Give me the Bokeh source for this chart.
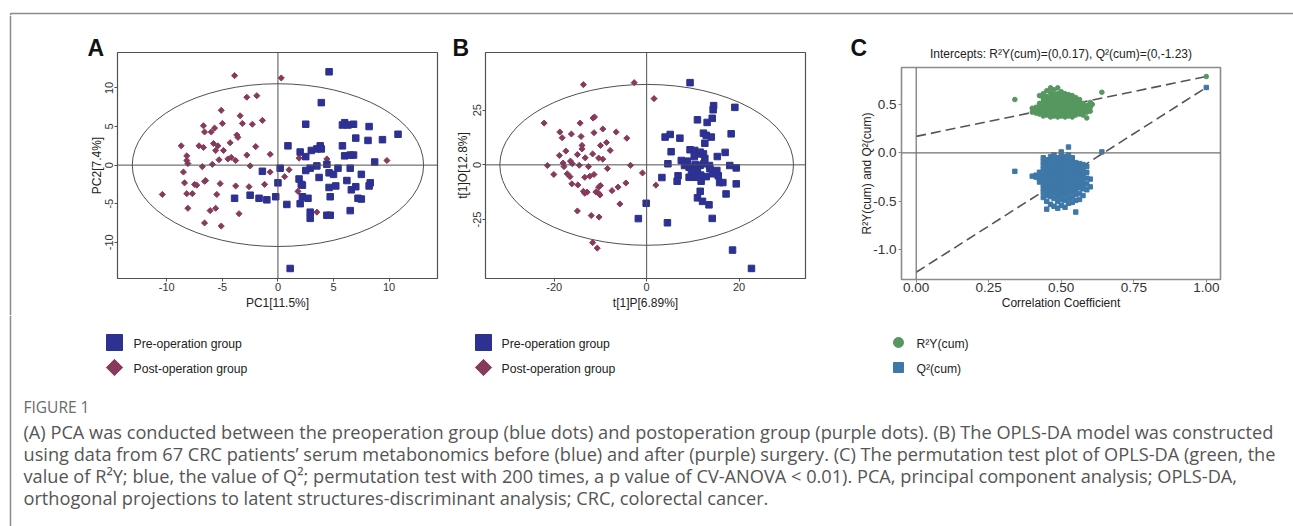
import math
from bokeh.plotting import figure
from bokeh.models import Range1d, FixedTicker, Span, Title
from bokeh.layouts import row, column
from bokeh.embed import file_html
from bokeh.resources import INLINE
from bokeh.core.properties import value

FONT = "Liberation Sans"
CAP_FONT = "Open Sans"

# ---------------- Panel A: PCA scores ----------------
pca_pre_x = [4.6, 3.9, 2.5, 5.8, 6.0, 6.3, 6.8, 8.2, 7.0, 8.1, 9.4, 10.8,
             0.9, 2.0, 2.5, 3.0, 3.5, 3.8, 3.9, 5.8, 6.0, 6.5, 6.8, 8.7,
             4.4, 3.5, 2.9, 2.5, 0.2, -1.4, 4.6, 5.0, 5.4, 6.5, 7.5,
             3.7, 1.9, 6.2, 2.1, 2.2, 0.0, 4.6, 5.2, 7.0, 6.6, 8.3, 8.2,
             -3.9, -2.5, -1.7, -1.0, -0.2, 2.2, 2.7, 4.7, 7.2, 7.5,
             0.8, 2.0, 2.9, 2.9, 4.4, 4.7, 6.5, 1.1]
pca_pre_y = [12.1, 8.1, 5.3, 5.2, 5.5, 5.2, 5.3, 5.0, 3.5, 3.2, 3.3, 4.0,
             2.5, 1.7, 1.1, 1.9, 2.1, 2.5, 2.1, 2.5, 1.2, 1.3, 1.3, 0.4,
             0.1, -0.1, -0.4, -0.7, -0.4, -0.8, -1.0, -1.2, -0.4, -0.4, -1.2,
             -1.6, -1.8, -2.0, -2.5, -2.6, -2.3, -2.9, -2.7, -2.8, -3.2, -2.3, -2.7,
             -4.3, -3.9, -4.3, -4.5, -4.1, -4.1, -4.3, -4.1, -4.3, -4.4,
             -5.1, -5.0, -6.1, -6.9, -6.5, -6.5, -5.9, -13.4]
pca_post_x = [-3.9, 0.3, -1.9, -2.8, -5.1, -3.4, -1.4, -6.7, -5.7, -5.0, -3.2, -2.3,
              -6.6, -6.0, -3.7, -3.6, -8.7, -7.1, -6.7, -5.8, -5.4, -4.3, -2.0,
              -5.6, -4.9, -8.2, -8.2, -5.3, -4.5, -4.2, -2.8, -0.7, -8.1, -6.8,
              -5.9, -3.8, -2.5, -0.7, 1.0, 0.6, 1.9, 4.4, 9.8, -8.5, -8.4, -7.5,
              -7.3, -6.6, -6.5, -5.2, -3.8, -2.6, -1.2, -10.4, -8.2, -7.7, -5.5,
              1.8, -8.1, -6.1, -5.6, -3.5, -6.6, -5.1, 3.5]
pca_post_y = [11.6, 11.3, 9.0, 8.8, 7.1, 6.4, 5.8, 5.1, 4.8, 5.4, 5.4, 5.3,
              4.3, 4.3, 3.9, 3.6, 2.5, 2.5, 2.3, 2.8, 2.5, 2.9, 2.4,
              1.9, 1.9, 1.2, 0.6, 0.7, 0.8, 1.0, 1.3, 1.4, 0.2, -0.2,
              0.1, 0.6, -0.1, -0.9, -0.6, -1.5, 0.9, 0.8, 0.6, -0.9, -2.3, -2.5,
              -2.6, -2.1, -2.0, -2.4, -2.7, -2.8, -2.5, -3.8, -3.7, -3.7, -3.8,
              -3.4, -5.6, -5.9, -5.6, -6.3, -7.5, -7.9, -6.1]
pca_ellipse = (26.2, 21.1)  # full width, full height of the Hotelling T2 ellipse

# ---------------- Panel B: OPLS-DA scores ----------------
opls_pre_x = [9.4, 14.5, 14.4, 19.1, 11.0, 13.1, 14.2, 18.3, 4.0, 5.1, 7.2, 12.3,
              12.9, 14.0, 12.6, 5.3, 9.4, 10.4, 11.0, 11.6, 12.3, 17.0, 7.5, 8.8,
              10.3, 12.6, 15.3, 4.6, 8.2, 9.2, 10.5, 11.6, 12.4, 13.6, 18.0, 19.4,
              3.3, 6.8, 6.6, 9.2, 10.3, 11.0, 11.7, 12.9, 11.8, 15.2, 15.5, 15.8,
              16.5, 19.4, 17.2, 11.6, 11.0, 12.1, 13.5, 14.2, -0.1, -1.8, 4.5,
              18.6, 22.7, 9.7, 10.6, 13.7, 14.3]
opls_pre_y = [37.6, 27.1, 25.2, 26.3, 20.6, 19.4, 21.3, 14.2, 12.7, 13.9, 12.2, 14.5,
              13.5, 12.7, 9.9, 6.0, 6.9, 6.6, 5.0, 5.8, 5.0, 5.7, 2.0, 1.7,
              3.8, 2.9, 3.8, 0.5, -0.3, -1.1, 0.2, -0.2, 0.5, -0.3, -0.3, -1.4,
              -5.8, -5.0, -7.5, -5.7, -2.3, -3.4, -4.7, -5.4, -7.5, -2.6, -5.0, -8.1,
              -8.1, -8.7, -13.3, -12.1, -15.1, -16.7, -18.3, -24.5, -17.6, -24.6, -26.5,
              -39.0, -47.4, -3.4, -5.7, -1.8, -4.1]
opls_post_x = [-13.7, -2.7, 1.6, -22.2, -14.4, -11.6, -11.3, -18.8, -18.3, -16.3, -14.2,
               -11.4, -9.5, -6.6, -4.3, -14.0, -14.0, -10.0, -8.7, -7.9, -17.5, -18.9,
               -13.3, -11.7, -10.4, -9.5, -16.5, -16.1, -18.1, -17.9, -21.5, -14.6,
               -20.1, -17.2, -16.6, -16.2, -14.9, -13.4, -12.3, -11.4, -13.7, -13.4,
               -12.9, -11.0, -10.4, -10.0, -10.4, -10.1, -7.5, -6.2, -4.5, -3.5, -0.9,
               2.0, -5.8, -15.0, -12.0, -10.3, -11.7, -10.7, -12.6, -8.5, -15.0]
opls_post_y = [36.7, 37.6, 30.3, 19.1, 19.1, 21.4, 21.9, 15.0, 12.4, 14.1, 13.0,
               14.7, 16.4, 15.0, 12.2, 8.9, 7.3, 8.9, 10.2, 6.6, 6.3, 4.3,
               3.2, 5.0, 3.1, 2.6, 1.7, 0.5, 0.8, -0.8, -0.3, -0.2,
               -4.4, -4.1, -5.4, -8.7, -9.2, -5.7, -5.2, -4.4, -12.1, -13.0,
               -12.5, -12.4, -10.2, -9.5, -13.0, -13.8, -11.8, -10.2, -8.3, -0.2, -3.7,
               -9.3, -17.9, -21.1, -23.2, -23.9, -35.6, -38.1, -0.8, -1.7, 4.7]
opls_ellipse = (63.6, 73.6)

# ---------------- Panel C: permutation test ----------------
# permuted models: correlation coefficient -> list of R2Y(cum) values
r2_perm_cols = {
    0.400: [0.42, 0.46],
    0.413: [0.41, 0.44, 0.47],
    0.425: [0.40, 0.44, 0.48, 0.51, 0.59],
    0.438: [0.38, 0.41, 0.44, 0.47, 0.50, 0.53, 0.56, 0.61],
    0.450: [0.39, 0.42, 0.45, 0.48, 0.51, 0.54, 0.58, 0.64],
    0.463: [0.37, 0.40, 0.43, 0.46, 0.49, 0.52, 0.55, 0.58, 0.62, 0.67],
    0.475: [0.38, 0.41, 0.44, 0.47, 0.50, 0.53, 0.56, 0.60, 0.65],
    0.488: [0.37, 0.40, 0.43, 0.46, 0.49, 0.52, 0.55, 0.58, 0.61, 0.67],
    0.500: [0.38, 0.41, 0.44, 0.47, 0.50, 0.53, 0.56, 0.59, 0.63],
    0.513: [0.37, 0.40, 0.43, 0.46, 0.49, 0.52, 0.55, 0.58, 0.61],
    0.525: [0.38, 0.41, 0.44, 0.47, 0.50, 0.53, 0.56, 0.60],
    0.538: [0.37, 0.40, 0.43, 0.46, 0.49, 0.52, 0.55, 0.59],
    0.550: [0.39, 0.42, 0.45, 0.48, 0.51, 0.54, 0.57],
    0.563: [0.40, 0.43, 0.46, 0.49, 0.52, 0.55],
    0.575: [0.39, 0.42, 0.45, 0.48, 0.51],
    0.588: [0.36, 0.42, 0.46, 0.49],
    0.600: [0.43, 0.47, 0.52],
    0.607: [0.50],
    0.340: [0.55],
    0.640: [0.625],
    1.000: [0.787],
}
# permuted models: correlation coefficient -> list of Q2(cum) values
q2_perm_cols = {
    0.400: [-0.24],
    0.413: [-0.23, -0.25],
    0.425: [-0.20, -0.24, -0.27, -0.30],
    0.438: [-0.05, -0.09, -0.13, -0.17, -0.21, -0.25, -0.29, -0.33, -0.37, -0.41, -0.46],
    0.450: [-0.07, -0.11, -0.15, -0.19, -0.23, -0.27, -0.31, -0.35, -0.39, -0.44, -0.50, -0.58],
    0.463: [-0.04, -0.08, -0.12, -0.16, -0.20, -0.24, -0.28, -0.32, -0.36, -0.40, -0.45, -0.53],
    0.475: [-0.02, -0.06, -0.10, -0.14, -0.18, -0.22, -0.26, -0.30, -0.34, -0.38, -0.42, -0.47, -0.55],
    0.488: [-0.05, -0.09, -0.13, -0.17, -0.21, -0.25, -0.29, -0.33, -0.37, -0.41, -0.45, -0.50, -0.57],
    0.500: [0.01, -0.03, -0.07, -0.11, -0.15, -0.19, -0.23, -0.27, -0.31, -0.35, -0.39, -0.43, -0.48, -0.54],
    0.513: [-0.04, -0.08, -0.12, -0.16, -0.20, -0.24, -0.28, -0.32, -0.36, -0.40, -0.44, -0.49, -0.56],
    0.525: [0.06, -0.02, -0.06, -0.10, -0.14, -0.18, -0.22, -0.26, -0.30, -0.34, -0.38, -0.42, -0.47, -0.52],
    0.538: [-0.05, -0.09, -0.13, -0.17, -0.21, -0.25, -0.29, -0.33, -0.37, -0.41, -0.46, -0.51],
    0.550: [-0.10, -0.14, -0.18, -0.22, -0.26, -0.30, -0.34, -0.38, -0.43, -0.49, -0.61],
    0.563: [-0.11, -0.15, -0.19, -0.23, -0.27, -0.31, -0.36, -0.42, -0.48],
    0.575: [-0.12, -0.17, -0.22, -0.27, -0.32, -0.37, -0.44],
    0.588: [-0.14, -0.20, -0.26, -0.32, -0.38],
    0.600: [-0.27, -0.35],
    0.340: [-0.19],
    0.640: [0.01],
    1.000: [0.674],
}
r2_intercept_line_x = [0.0, 1.0]
r2_intercept_line_y = [0.17, 0.787]
q2_intercept_line_x = [0.0, 1.0]
q2_intercept_line_y = [-1.23, 0.674]

# ---------------- texts ----------------
legend_ab = ["Pre-operation group", "Post-operation group"]
legend_c = ["R\u00b2Y(cum)", "Q\u00b2(cum)"]
title_c = "Intercepts: R\u00b2Y(cum)=(0,0.17), Q\u00b2(cum)=(0,-1.23)"
fig_label = "FIGURE 1"
caption_lines = [
    "(A) PCA was conducted between the preoperation group (blue dots) and postoperation group (purple dots). (B) The OPLS-DA model was constructed",
    "using data from 67 CRC patients\u2019 serum metabonomics before (blue) and after (purple) surgery. (C) The permutation test plot of OPLS-DA (green, the",
    "value of R\u00b2Y; blue, the value of Q\u00b2; permutation test with 200 times, a p value of CV-ANOVA < 0.01). PCA, principal component analysis; OPLS-DA,",
    "orthogonal projections to latent structures-discriminant analysis; CRC, colorectal cancer.",
]

BLUE = "#2d3192"
PURPLE = "#873a5c"
GREEN = "#56975f"
STEEL = "#3e78a8"
DARK = "#505050"
FRAME_GRAY = "#8c8c8c"

ROW_H = 300


def flatten(cols):
    xs, ys = [], []
    for k, vals in cols.items():
        for v in vals:
            xs.append(k)
            ys.append(v)
    return xs, ys


def plain_fig(width, height, xr, yr, **kw):
    p = figure(width=width, height=height, x_range=Range1d(*xr), y_range=Range1d(*yr),
               toolbar_location=None, output_backend="svg", frame_align=False, **kw)
    p.xgrid.visible = False
    p.ygrid.visible = False
    p.background_fill_color = "white"
    p.border_fill_color = "white"
    return p


def panel(width, xr, yr, mb):
    return plain_fig(width, ROW_H, xr, yr, min_border_left=mb[0], min_border_right=mb[1],
                     min_border_top=mb[2], min_border_bottom=mb[3])


def style_axes(p, xticks, xlabels, yticks, ylabels, xlabel, ylabel, tick_size,
               y_orient, outline_color, outline_width, tick_color, tstand, lstand):
    p.xaxis.ticker = FixedTicker(ticks=xticks)
    p.yaxis.ticker = FixedTicker(ticks=yticks)
    p.xaxis.major_label_overrides = {t: l for t, l in zip(xticks, xlabels)}
    p.yaxis.major_label_overrides = {t: l for t, l in zip(yticks, ylabels)}
    p.xaxis.axis_label = xlabel
    p.yaxis.axis_label = ylabel
    for ax in (p.xaxis[0], p.yaxis[0]):
        ax.axis_line_color = None
        ax.minor_tick_line_color = None
        ax.major_tick_line_color = tick_color
        ax.major_tick_in = 0
        ax.major_tick_out = 3
        ax.major_label_text_font = FONT
        ax.major_label_text_font_size = tick_size
        ax.major_label_text_color = "#333333"
        ax.axis_label_text_font = FONT
        ax.axis_label_text_font_size = "12px"
        ax.axis_label_text_font_style = "normal"
        ax.axis_label_text_color = "#222222"
    p.xaxis[0].major_label_standoff = tstand[0]
    p.yaxis[0].major_label_standoff = tstand[1]
    p.xaxis[0].axis_label_standoff = lstand[0]
    p.yaxis[0].axis_label_standoff = lstand[1]
    p.yaxis[0].major_label_orientation = y_orient
    p.outline_line_color = outline_color
    p.outline_line_width = outline_width


def letter_title(p, text, offset, standoff):
    p.title.text = text
    p.title.align = "left"
    p.title.offset = offset
    p.title.standoff = standoff
    p.title.text_font = FONT
    p.title.text_font_size = "23px"
    p.title.text_font_style = "bold"
    p.title.text_color = "#111111"


# ---------------- Panel A ----------------
a_xr, a_yr = (-14.43, 14.35), (-14.7, 14.6)
pA = panel(436, a_xr, a_yr, (105, 11, 37, 37))
style_axes(pA, [-10, -5, 0, 5, 10], ["-10", "-5", "0", "5", "10"],
           [-10, -5, 0, 5, 10], ["-10", "-5", "0", "5", "10"],
           "PC1[11.5%]", "PC2[7.4%]", "11px", "parallel", DARK, 1.2, DARK, (1, 1), (2, -1))
pA.add_layout(Span(location=0, dimension="width", line_color=DARK, line_width=1))
pA.add_layout(Span(location=0, dimension="height", line_color=DARK, line_width=1))
pA.ellipse(x=0, y=0, width=pca_ellipse[0], height=pca_ellipse[1], fill_color=None,
           line_color=DARK, line_width=1)
pA.scatter(pca_post_x, pca_post_y, marker="square", angle=math.pi / 4, size=4.3,
           color=PURPLE)
pA.scatter(pca_pre_x, pca_pre_y, marker="square", size=6.5, color=BLUE)
letter_title(pA, "A", -30, -17)

# ---------------- Panel B ----------------
b_xr, b_yr = (-34.9, 34.4), (-52.0, 51.4)
pB = panel(397, b_xr, b_yr, (37, 40, 37, 37))
style_axes(pB, [-20, 0, 20], ["-20", "0", "20"], [-25, 0, 25], ["-25", "0", "25"],
           "t[1]P[6.89%]", "t[1]O[12.8%]", "11px", "parallel", DARK, 1.2, DARK, (1, 1), (2, 1))
pB.add_layout(Span(location=0, dimension="width", line_color=DARK, line_width=1))
pB.add_layout(Span(location=0, dimension="height", line_color=DARK, line_width=1))
pB.ellipse(x=0, y=0, width=opls_ellipse[0], height=opls_ellipse[1], fill_color=None,
           line_color=DARK, line_width=1)
pB.scatter(opls_post_x, opls_post_y, marker="square", angle=math.pi / 4, size=4.3,
           color=PURPLE)
pB.scatter(opls_pre_x, opls_pre_y, marker="square", size=6.5, color=BLUE)
letter_title(pB, "B", -33, -17)

# ---------------- Panel C ----------------
c_xr, c_yr = (-0.0507, 1.049), (-1.305, 0.88)
pC = panel(440, c_xr, c_yr, (56, 65, 52, 36))
style_axes(pC, [0.0, 0.25, 0.5, 0.75, 1.0], ["0.00", "0.25", "0.50", "0.75", "1.00"],
           [-1.0, -0.5, 0.0, 0.5], ["-1.0", "-0.5", "0.0", "0.5"],
           "Correlation Coefficient", "R\u00b2Y(cum) and Q\u00b2(cum)", "13.5px",
           "horizontal", FRAME_GRAY, 1.6, FRAME_GRAY, (0, 2), (1, -4))
pC.add_layout(Span(location=0, dimension="width", line_color="#707070", line_width=1.2))
pC.add_layout(Span(location=0, dimension="height", line_color="#707070", line_width=1.2))
pC.line(r2_intercept_line_x, r2_intercept_line_y, line_color="#555555", line_width=1.6,
        line_dash="10 5")
pC.line(q2_intercept_line_x, q2_intercept_line_y, line_color="#555555", line_width=1.6,
        line_dash="10 5")
r2x, r2y = flatten(r2_perm_cols)
q2x, q2y = flatten(q2_perm_cols)
pC.scatter(r2x, r2y, marker="circle", size=4.6, color=GREEN)
pC.scatter(q2x, q2y, marker="square", size=4.4, color=STEEL)
letter_title(pC, "C", -51, -44)
pC.add_layout(Title(text=title_c, align="center", standoff=13, text_font=FONT,
                    text_font_size="12px", text_font_style="normal",
                    text_color="#222222"), "above")

# ---------------- frame pieces ----------------
W = 1293
TOP_H = 15
top = plain_fig(W, TOP_H, (0, W), (TOP_H, 0), min_border=0, x_axis_location=None,
                y_axis_location=None, title=None)
top.outline_line_color = None
top.segment(x0=[10, 10], y0=[13, 13], x1=[W, 10], y1=[13, TOP_H], line_color=FRAME_GRAY,
            line_width=1.5)

strip = plain_fig(12, ROW_H, (0, 12), (ROW_H, 0), min_border=0, x_axis_location=None,
                  y_axis_location=None, title=None)
strip.outline_line_color = None
strip.segment(x0=[10], y0=[0], x1=[10], y1=[ROW_H], line_color=FRAME_GRAY, line_width=1.5)

BH = 526 - TOP_H - ROW_H
bottom = plain_fig(W, BH, (0, W), (BH, 0), min_border=0, x_axis_location=None,
                   y_axis_location=None, title=None)
bottom.outline_line_color = None
bottom.segment(x0=[10], y0=[0], x1=[10], y1=[BH], line_color=FRAME_GRAY, line_width=1.5)

# legends (swatch positions are layout, not data)
leg_ab_x = [114, 483]
bottom.scatter(leg_ab_x, [27, 27], marker="square", size=16, color=BLUE)
bottom.scatter(leg_ab_x, [52, 52], marker="square", angle=math.pi / 4, size=11.5,
               color=PURPLE)
bottom.scatter([898], [27], marker="circle", size=10, color=GREEN)
bottom.scatter([898], [52], marker="square", size=10, color=STEEL)
bottom.text(x=[133, 133, 501, 501], y=[28, 53, 28, 53],
            text=legend_ab + legend_ab, text_font=value(FONT),
            text_font_size=value("12.2px"), text_color="#222222",
            text_baseline="middle", text_align="left")
bottom.text(x=[916, 916], y=[28, 53], text=legend_c, text_font=value(FONT),
            text_font_size=value("12.2px"), text_color="#222222",
            text_baseline="middle", text_align="left")

bottom.text(x=[23], y=[91], text=[fig_label], text_font=value(CAP_FONT),
            text_font_size=value("15.5px"), text_color="#6a6a6a",
            text_baseline="middle", text_align="left")
bottom.text(x=[23] * 4, y=[116, 138, 160, 182], text=caption_lines,
            text_font=value(CAP_FONT), text_font_size=value("18.2px"),
            text_color="#555555", text_baseline="middle", text_align="left")

layout = column(top, row(strip, pA, pB, pC, spacing=0), bottom, spacing=0)

open("out.html", "w").write(file_html(layout, INLINE, title="Figure 1"))
